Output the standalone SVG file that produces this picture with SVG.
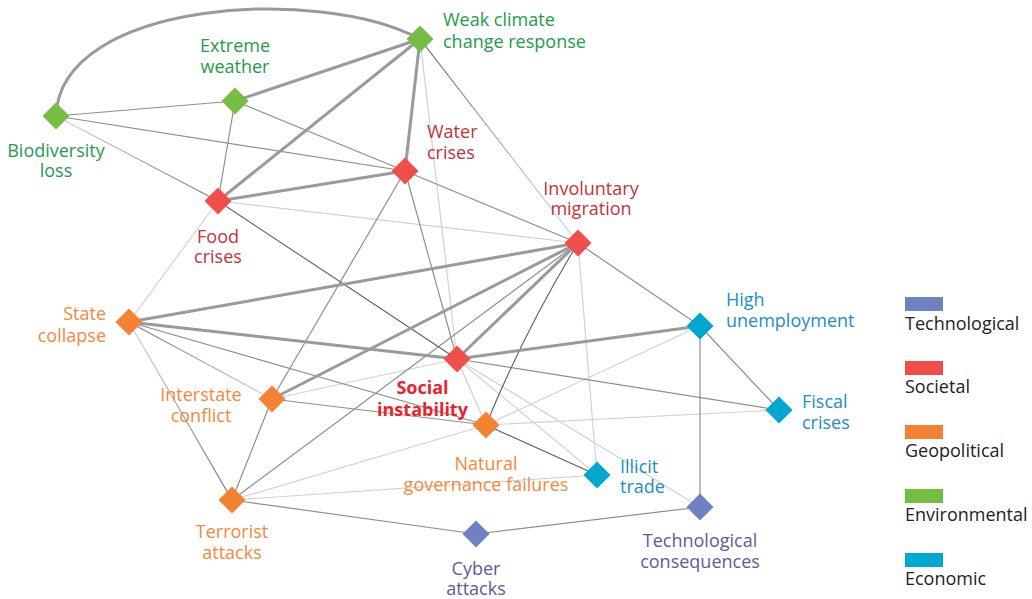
<svg xmlns="http://www.w3.org/2000/svg" width="1032" height="599" viewBox="0 0 1032 599">
<defs>
<path id="dia" d="M0,-13.5 L13.5,0 L0,13.5 L-13.5,0 Z"/>
<linearGradient id="gWM" gradientUnits="userSpaceOnUse" x1="420" y1="39" x2="578" y2="243"><stop offset="0" stop-color="#5e5e5e"/><stop offset="0.5" stop-color="#b0b0b0"/><stop offset="1" stop-color="#cfcfcf"/></linearGradient>
<linearGradient id="gBF" gradientUnits="userSpaceOnUse" x1="56" y1="116" x2="218" y2="201"><stop offset="0" stop-color="#d8d8d8"/><stop offset="1" stop-color="#7a7a7a"/></linearGradient>
<linearGradient id="gSI" gradientUnits="userSpaceOnUse" x1="129" y1="322" x2="272" y2="399"><stop offset="0" stop-color="#7a7a7a"/><stop offset="1" stop-color="#d0d0d0"/></linearGradient>
<linearGradient id="gST" gradientUnits="userSpaceOnUse" x1="129" y1="322" x2="232" y2="500"><stop offset="0" stop-color="#d4d4d4"/><stop offset="1" stop-color="#6e6e6e"/></linearGradient>
</defs>
<style>
text{font-family:"Open Sans","Noto Sans","Liberation Sans",sans-serif;font-size:18px}
.thick{stroke:#9a9a9e;stroke-width:3;fill:none}
.mid{stroke:#8e8e8e;stroke-width:1.2;fill:none}
.dark{stroke:#5e5e5e;stroke-width:1.1;fill:none}
.light{stroke:#d2d2d2;stroke-width:1.2;fill:none}
.env{fill:#76bd43}.envt{fill:#239b4b}
.soc{fill:#f04e4b}.soct{fill:#c5323a}
.geo{fill:#f58232}.geot{fill:#f5883a}
.eco{fill:#00a8cf}.ecot{fill:#1a8ec6}
.tec{fill:#6e81c0}.tect{fill:#5a5b9e}
.leg{fill:#222}
.c{text-anchor:middle}.r{text-anchor:end}
</style>
<rect width="1032" height="599" fill="#fff"/>
<g id="connectors">
<path class="light" d="M218,201 L578,243"/>
<path class="light" d="M218,201 L129,322"/>
<path class="light" d="M420,39 L457,359"/>
<path class="light" d="M457,359 L486,425"/>
<path class="light" d="M457,359 L597,475"/>
<path class="light" d="M457,359 L700,507"/>
<path class="light" d="M272,399 L457,359"/>
<path class="light" d="M486,425 L700,326"/>
<path class="light" d="M486,425 L779,410"/>
<path class="light" d="M578,243 L597,475"/>
<path class="light" d="M232,500 L486,425"/>
<path class="light" d="M232,500 L597,475"/>
<path class="mid" d="M56,116 L235,101"/>
<path class="mid" d="M56,116 L405,171"/>
<path d="M56,116 L218,201" stroke="url(#gBF)" stroke-width="1.2" fill="none"/>
<path class="mid" d="M235,101 L218,201"/>
<path class="mid" d="M235,101 L405,171"/>
<path class="mid" d="M405,171 L578,243"/>
<path class="mid" d="M405,171 L457,359"/>
<path class="mid" d="M405,171 L272,399"/>
<path class="mid" d="M578,243 L700,326"/>
<path class="mid" d="M700,326 L779,410"/>
<path class="mid" d="M700,326 L700,507"/>
<path class="mid" d="M457,359 L779,410"/>
<path class="mid" d="M129,322 L486,425"/>
<path d="M129,322 L272,399" stroke="url(#gSI)" stroke-width="1.2" fill="none"/>
<path d="M129,322 L232,500" stroke="url(#gST)" stroke-width="1.2" fill="none"/>
<path class="mid" d="M272,399 L486,425"/>
<path class="mid" d="M272,399 L232,500"/>
<path class="mid" d="M232,500 L578,243"/>
<path class="mid" d="M232,500 L476,534"/>
<path class="mid" d="M476,534 L700,507"/>
<path class="dark" d="M486,425 L597,475"/>
<path class="dark" d="M218,201 L457,359"/>
<path class="dark" d="M486,425 Q525,330 578,243"/>
<path d="M420,39 L578,243" stroke="url(#gWM)" stroke-width="1.2" fill="none"/>
<path class="thick" d="M56,116 C60,0 320,-15 420,39"/>
<path class="thick" d="M235,101 L420,39"/>
<path class="thick" d="M218,201 L420,39"/>
<path class="thick" d="M405,171 L420,39"/>
<path class="thick" d="M218,201 L405,171"/>
<path class="thick" d="M129,322 L578,243"/>
<path class="thick" d="M129,322 L457,359"/>
<path class="thick" d="M272,399 L578,243"/>
<path class="thick" d="M457,359 L578,243"/>
<path class="thick" d="M457,359 L700,326"/>
</g>
<g id="node-biodiversity"><use href="#dia" x="56" y="116" class="env"/><text class="envt c" x="56" y="157">Biodiversity</text><text class="envt c" x="56" y="177">loss</text></g>
<g id="node-extreme"><use href="#dia" x="235" y="101" class="env"/><text class="envt c" x="235" y="52">Extreme</text><text class="envt c" x="235" y="73">weather</text></g>
<g id="node-weak"><use href="#dia" x="420" y="39" class="env"/><text class="envt" x="443" y="26">Weak climate</text><text class="envt" x="443" y="48">change response</text></g>
<g id="node-water"><use href="#dia" x="405" y="171" class="soc"/><text class="soct" x="427" y="138">Water</text><text class="soct" x="427" y="159">crises</text></g>
<g id="node-food"><use href="#dia" x="218" y="201" class="soc"/><text class="soct c" x="218" y="243">Food</text><text class="soct c" x="218" y="263">crises</text></g>
<g id="node-migration"><use href="#dia" x="578" y="243" class="soc"/><text class="soct c" x="591" y="195">Involuntary</text><text class="soct c" x="591" y="215">migration</text></g>
<g id="node-state"><use href="#dia" x="129" y="322" class="geo"/><text class="geot r" x="106" y="320">State</text><text class="geot r" x="106" y="342">collapse</text></g>
<g id="node-unemployment"><use href="#dia" x="700" y="326" class="eco"/><text class="ecot" x="726" y="306">High</text><text class="ecot" x="726" y="327">unemployment</text></g>
<g id="node-social"><use href="#dia" x="457" y="359" class="soc"/><text class="c" x="422.5" y="394" style="fill:#e8232b;font-weight:bold">Social</text><text class="c" x="422.5" y="416" style="fill:#e8232b;font-weight:bold">instability</text></g>
<g id="node-interstate"><use href="#dia" x="272" y="399" class="geo"/><text class="geot c" x="201" y="401">Interstate</text><text class="geot c" x="201" y="422">conflict</text></g>
<g id="node-fiscal"><use href="#dia" x="779" y="410" class="eco"/><text class="ecot" x="802" y="408">Fiscal</text><text class="ecot" x="802" y="429">crises</text></g>
<g id="node-natural"><use href="#dia" x="486" y="425" class="geo"/><text class="geot c" x="486" y="470">Natural</text><text class="geot c" x="486" y="491">governance failures</text></g>
<g id="node-illicit"><use href="#dia" x="597" y="475" class="eco"/><text class="ecot" x="620" y="473">Illicit</text><text class="ecot" x="620" y="493">trade</text></g>
<g id="node-terrorist"><use href="#dia" x="232" y="500" class="geo"/><text class="geot c" x="232" y="538">Terrorist</text><text class="geot c" x="232" y="559">attacks</text></g>
<g id="node-cyber"><use href="#dia" x="476" y="534" class="tec"/><text class="tect c" x="476" y="575">Cyber</text><text class="tect c" x="476" y="595">attacks</text></g>
<g id="node-tech"><use href="#dia" x="700" y="507" class="tec"/><text class="tect c" x="700" y="547">Technological</text><text class="tect c" x="700" y="568">consequences</text></g>
<g id="legend">
<rect x="905" y="297" width="38" height="14" class="tec"/><text class="leg" x="905" y="330">Technological</text>
<rect x="905" y="361" width="38" height="14" class="soc"/><text class="leg" x="905" y="393">Societal</text>
<rect x="905" y="425" width="38" height="14" class="geo"/><text class="leg" x="905" y="457">Geopolitical</text>
<rect x="905" y="489" width="38" height="14" class="env"/><text class="leg" x="905" y="521">Environmental</text>
<rect x="905" y="553" width="38" height="14" class="eco"/><text class="leg" x="905" y="585">Economic</text>
</g>
</svg>
